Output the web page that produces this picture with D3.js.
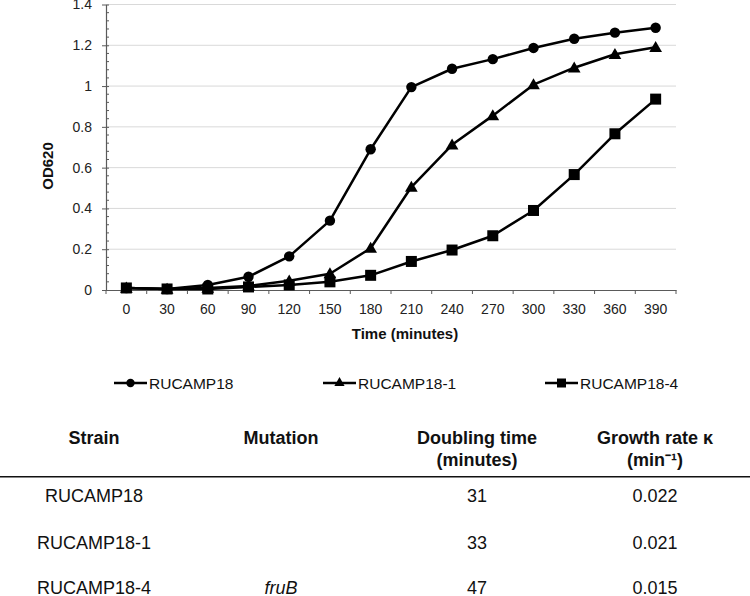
<!DOCTYPE html>
<html>
<head>
<meta charset="utf-8">
<script src="https://cdn.jsdelivr.net/npm/d3@7/dist/d3.min.js"></script>
<style>
  html, body { margin: 0; padding: 0; background: #fff; }
  svg { display: block; font-family: "Liberation Sans", Arial, sans-serif; }
</style>
</head>
<body>
<svg id="chart" width="750" height="596"></svg>
<script>
// ---- Data ----
const times = [0, 30, 60, 90, 120, 150, 180, 210, 240, 270, 300, 330, 360, 390];
const seriesNames = ["RUCAMP18", "RUCAMP18-1", "RUCAMP18-4"];
const rucamp18   = [0.01, 0.005, 0.025, 0.065, 0.165, 0.34, 0.69, 0.995, 1.085, 1.132, 1.187, 1.232, 1.262, 1.286];
const rucamp18_1 = [0.01, 0.005, 0.01, 0.02, 0.045, 0.08, 0.205, 0.505, 0.712, 0.855, 1.007, 1.09, 1.156, 1.19];
const rucamp18_4 = [0.01, 0.005, 0.005, 0.015, 0.025, 0.04, 0.072, 0.14, 0.196, 0.266, 0.39, 0.566, 0.766, 0.936];
const yTicks = [0, 0.2, 0.4, 0.6, 0.8, 1, 1.2, 1.4];
const markerShapes = ["circle", "triangle", "square"];

const tableHeaders = [["Strain"], ["Mutation"], ["Doubling time", "(minutes)"], ["Growth rate κ", "(min\u207B\u00B9)"]];
const tableStrains = ["RUCAMP18", "RUCAMP18-1", "RUCAMP18-4"];
const tableMutations = ["", "", "fruB"];
const tableDoubling = ["31", "33", "47"];
const tableGrowth = ["0.022", "0.021", "0.015"];

const allSeries = [rucamp18, rucamp18_1, rucamp18_4];

// ---- Layout ----
const svg = d3.select("#chart");
const plot = { left: 106, right: 676, top: 4.5, bottom: 290 };

const x = d3.scaleBand().domain(times.map(String)).range([plot.left, plot.right]).padding(0);
const y = d3.scaleLinear().domain([0, 1.4]).range([plot.bottom, plot.top]);
const axisColor = "#5a5a5a";

// Gridlines
svg.append("g").selectAll("line").data(yTicks.filter(d => d > 0)).join("line")
  .attr("x1", plot.left).attr("x2", plot.right)
  .attr("y1", d => y(d)).attr("y2", d => y(d))
  .attr("stroke", "#d9d9d9").attr("stroke-width", 1);

// Y axis
const yAxis = svg.append("g").attr("transform", `translate(${plot.left},0)`)
  .call(d3.axisLeft(y).tickValues(yTicks).tickFormat(d3.format("~g")).tickSize(4).tickSizeOuter(0));
yAxis.select(".domain").attr("stroke", axisColor).attr("stroke-width", 1.2);
yAxis.selectAll(".tick line").attr("stroke", axisColor).attr("x2", -4).attr("x1", 3);
yAxis.selectAll(".tick text").attr("font-size", 14).attr("fill", "#222").attr("x", -14);
// minor ticks
const minorTicks = d3.range(0, 1.4001, 0.04).filter(v => Math.abs(v / 0.2 - Math.round(v / 0.2)) > 1e-6);
svg.append("g").selectAll("line").data(minorTicks).join("line")
  .attr("x1", plot.left).attr("x2", plot.left + 3)
  .attr("y1", d => y(d)).attr("y2", d => y(d))
  .attr("stroke", axisColor).attr("stroke-width", 1);

// X axis
const xAxis = svg.append("g").attr("transform", `translate(0,${plot.bottom})`)
  .call(d3.axisBottom(x).tickSize(0).tickSizeOuter(0));
xAxis.select(".domain").attr("stroke", axisColor).attr("stroke-width", 1.2);
xAxis.selectAll(".tick text").attr("font-size", 14).attr("fill", "#222").attr("dy", 0).attr("y", 24);
// tick marks at band boundaries
const boundaries = times.map(t => x(String(t))).concat([plot.right]);
svg.append("g").selectAll("line").data(boundaries).join("line")
  .attr("x1", d => d).attr("x2", d => d)
  .attr("y1", plot.bottom).attr("y2", plot.bottom + 4)
  .attr("stroke", axisColor).attr("stroke-width", 1);

// Axis titles
svg.append("text").attr("x", 405).attr("y", 339).attr("text-anchor", "middle")
  .attr("font-size", 15).attr("font-weight", "bold").attr("fill", "#111").text("Time (minutes)");
svg.append("text").attr("transform", "translate(53,166) rotate(-90)").attr("text-anchor", "middle")
  .attr("font-size", 15).attr("font-weight", "bold").attr("fill", "#111").text("OD620");

// Marker drawing
function drawMarker(g, shape, cx, cy) {
  if (shape === "circle") {
    g.append("circle").attr("cx", cx).attr("cy", cy).attr("r", 5.2).attr("fill", "#000");
  } else if (shape === "triangle") {
    g.append("path").attr("d", d3.symbol().type(d3.symbolTriangle).size(70)())
      .attr("transform", `translate(${cx},${cy + 1})`).attr("fill", "#000");
  } else {
    g.append("rect").attr("x", cx - 5.5).attr("y", cy - 5.5).attr("width", 11).attr("height", 11).attr("fill", "#000");
  }
}

const line = d3.line().x((d, i) => x(String(times[i])) + x.bandwidth() / 2).y(d => y(d));

// Draw series (last first so first is on top)
[2, 1, 0].forEach(si => {
  const vals = allSeries[si];
  const g = svg.append("g");
  g.append("path").attr("d", line(vals)).attr("fill", "none").attr("stroke", "#000").attr("stroke-width", 2.5)
    .attr("stroke-linejoin", "round");
  vals.forEach((v, i) => drawMarker(g, markerShapes[si], x(String(times[i])) + x.bandwidth() / 2, y(v)));
});

// Legend
const legendX = [114, 323, 545];
const legendY = 383;
seriesNames.forEach((name, i) => {
  const g = svg.append("g");
  g.append("line").attr("x1", legendX[i]).attr("x2", legendX[i] + 33)
    .attr("y1", legendY).attr("y2", legendY).attr("stroke", "#000").attr("stroke-width", 2.5);
  const cx = legendX[i] + 16.5;
  if (markerShapes[i] === "circle") {
    g.append("circle").attr("cx", cx).attr("cy", legendY).attr("r", 4.2).attr("fill", "#000");
  } else if (markerShapes[i] === "triangle") {
    g.append("path").attr("d", d3.symbol().type(d3.symbolTriangle).size(45)())
      .attr("transform", `translate(${cx},${legendY})`).attr("fill", "#000");
  } else {
    g.append("rect").attr("x", cx - 4.5).attr("y", legendY - 4.5).attr("width", 9).attr("height", 9).attr("fill", "#000");
  }
  g.append("text").attr("x", legendX[i] + 35).attr("y", legendY + 5.5)
    .attr("font-size", 15.5).attr("fill", "#111").text(name);
});

// Table
const colX = [94, 281, 477, 655];
const headerY = 444;
tableHeaders.forEach((lines, c) => {
  lines.forEach((t, li) => {
    svg.append("text").attr("x", colX[c]).attr("y", headerY + li * 22).attr("text-anchor", "middle")
      .attr("font-size", 18).attr("font-weight", "bold").attr("fill", "#111").text(t);
  });
});
svg.append("line").attr("x1", 0).attr("x2", 750).attr("y1", 476.7).attr("y2", 476.7)
  .attr("stroke", "#111").attr("stroke-width", 1.6);

const rowY = [502, 549, 594];
tableStrains.forEach((s, r) => {
  const cells = [s, tableMutations[r], tableDoubling[r], tableGrowth[r]];
  cells.forEach((t, c) => {
    svg.append("text").attr("x", colX[c]).attr("y", rowY[r]).attr("text-anchor", "middle")
      .attr("font-size", 18).attr("fill", "#111")
      .attr("font-style", c === 1 ? "italic" : "normal").text(t);
  });
});
</script>
</body>
</html>
